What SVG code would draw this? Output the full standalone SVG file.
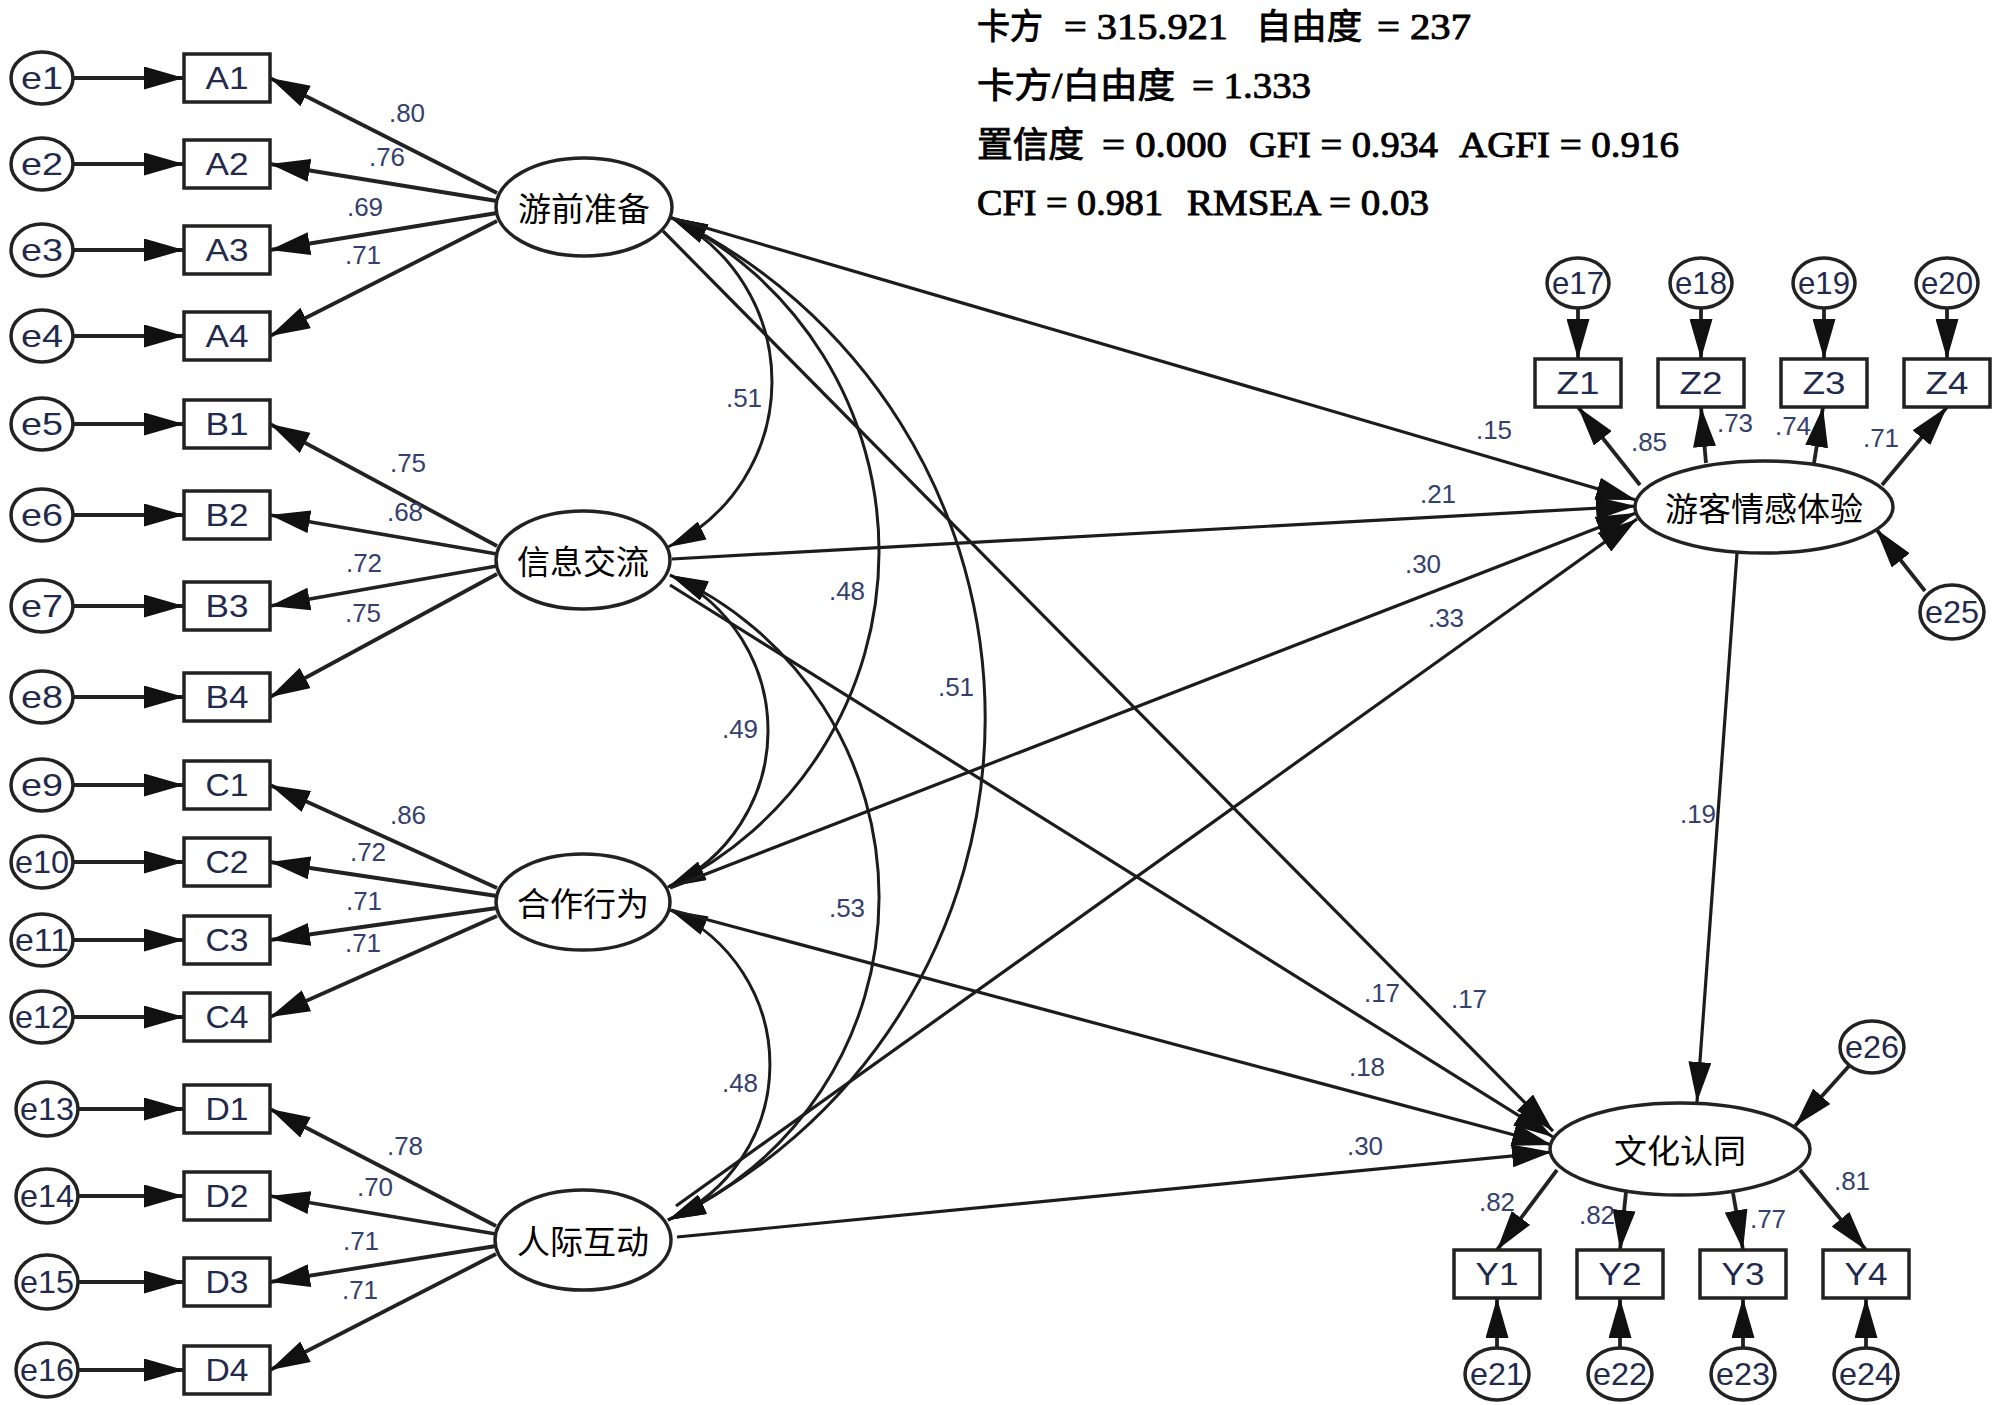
<svg xmlns="http://www.w3.org/2000/svg" width="2000" height="1405" viewBox="0 0 2000 1405">
<defs>
<style>
.bx{fill:#fff;stroke:#222;stroke-width:3.5}
.er{fill:#fff;stroke:#222;stroke-width:3.5}
.lt{fill:#fff;stroke:#222;stroke-width:3.5}
.ln{fill:none;stroke:#222;stroke-width:3.8;marker-end:url(#ah)}
.sp{fill:none;stroke:#1c1c1c;stroke-width:3.2;marker-end:url(#ah)}
.cv{fill:none;stroke:#1c1c1c;stroke-width:3;marker-start:url(#ahc);marker-end:url(#ahc)}
.el{font-family:"Liberation Sans",Arial,sans-serif;font-size:32px;fill:#1f2a4d;text-anchor:middle;dominant-baseline:central}
.bl{font-family:"Liberation Sans",Arial,sans-serif;font-size:32px;fill:#1f2a4d;text-anchor:middle;dominant-baseline:central}
.cf{font-family:"Liberation Sans",Arial,sans-serif;font-size:26px;fill:#34406e;text-anchor:middle;dominant-baseline:central}
.cn{font-family:"Noto Sans CJK SC","Liberation Serif",sans-serif;font-size:33px;fill:#000;text-anchor:middle;dominant-baseline:central}
.st{font-family:"Liberation Serif","Noto Sans CJK SC",serif;font-size:35px;fill:#000;stroke:#000;stroke-width:0.9}
</style>
<marker id="ah" viewBox="0 0 40 23" refX="40" refY="11.5" markerWidth="40" markerHeight="23" markerUnits="userSpaceOnUse" orient="auto-start-reverse"><path d="M0,0 L40,11.5 L0,23 z" fill="#111"/></marker>
<marker id="ahc" viewBox="0 0 38 20" refX="38" refY="10" markerWidth="38" markerHeight="20" markerUnits="userSpaceOnUse" orient="auto-start-reverse"><path d="M0,0 L38,10 L0,20 z" fill="#111"/></marker>
</defs>
<rect width="2000" height="1405" fill="#fff"/>

<g id="stats">
<text class="st" x="977" y="39" textLength="66" lengthAdjust="spacingAndGlyphs">卡方</text>
<text class="st" x="1064" y="39" textLength="164" lengthAdjust="spacingAndGlyphs">= 315.921</text>
<text class="st" x="1256" y="39" textLength="106" lengthAdjust="spacingAndGlyphs">自由度</text>
<text class="st" x="1377" y="39" textLength="94" lengthAdjust="spacingAndGlyphs">= 237</text>
<text class="st" x="977" y="98" textLength="198" lengthAdjust="spacingAndGlyphs">卡方/白由度</text>
<text class="st" x="1192" y="98" textLength="119" lengthAdjust="spacingAndGlyphs">= 1.333</text>
<text class="st" x="977" y="157" textLength="107" lengthAdjust="spacingAndGlyphs">置信度</text>
<text class="st" x="1102" y="157" textLength="125" lengthAdjust="spacingAndGlyphs">= 0.000</text>
<text class="st" x="1249" y="157" textLength="189" lengthAdjust="spacingAndGlyphs">GFI = 0.934</text>
<text class="st" x="1459" y="157" textLength="220" lengthAdjust="spacingAndGlyphs">AGFI = 0.916</text>
<text class="st" x="977" y="215" textLength="186" lengthAdjust="spacingAndGlyphs">CFI = 0.981</text>
<text class="st" x="1187" y="215" textLength="242" lengthAdjust="spacingAndGlyphs">RMSEA = 0.03</text>
</g>

<g id="connectors">
<path class="ln" d="M73,78 H184"/>
<path class="ln" d="M73,164 H184"/>
<path class="ln" d="M73,250 H184"/>
<path class="ln" d="M73,336 H184"/>
<path class="ln" d="M73,424 H184"/>
<path class="ln" d="M73,515 H184"/>
<path class="ln" d="M73,606 H184"/>
<path class="ln" d="M73,697 H184"/>
<path class="ln" d="M73,785 H184"/>
<path class="ln" d="M73,862 H184"/>
<path class="ln" d="M73,940 H184"/>
<path class="ln" d="M73,1017 H184"/>
<path class="ln" d="M78,1109 H184"/>
<path class="ln" d="M78,1196 H184"/>
<path class="ln" d="M78,1282 H184"/>
<path class="ln" d="M78,1370 H184"/>
<path class="ln" d="M497,193 L270,78"/>
<path class="ln" d="M497,201 L270,164"/>
<path class="ln" d="M497,213 L270,250"/>
<path class="ln" d="M497,221 L270,336"/>
<path class="ln" d="M497,546 L270,424"/>
<path class="ln" d="M497,554 L270,515"/>
<path class="ln" d="M497,566 L270,606"/>
<path class="ln" d="M497,574 L270,697"/>
<path class="ln" d="M497,888 L270,785"/>
<path class="ln" d="M497,896 L270,862"/>
<path class="ln" d="M497,908 L270,940"/>
<path class="ln" d="M497,916 L270,1017"/>
<path class="ln" d="M496,1226 L270,1109"/>
<path class="ln" d="M496,1234 L270,1196"/>
<path class="ln" d="M496,1246 L270,1282"/>
<path class="ln" d="M496,1254 L270,1370"/>
<path class="cv" d="M670,217 A183.7,183.7 0 0 1 668,547"/>
<path class="cv" d="M670,217 A372.2,372.2 0 0 1 668,887"/>
<path class="cv" d="M670,217 A555.8,555.8 0 0 1 668,1220"/>
<path class="cv" d="M670,575 A172.4,172.4 0 0 1 668,887"/>
<path class="cv" d="M670,575 A352.6,352.6 0 0 1 668,1220"/>
<path class="cv" d="M670,910 A169.5,169.5 0 0 1 668,1220"/>
<path class="sp" d="M672,218 L1636,500"/>
<path class="sp" d="M672,559 L1636,506"/>
<path class="sp" d="M670,888 L1636,513"/>
<path class="sp" d="M676,1206 L1637,519"/>
<path class="sp" d="M663,231 L1553,1131"/>
<path class="sp" d="M670,585 L1553,1137"/>
<path class="sp" d="M671,910 L1552,1145"/>
<path class="sp" d="M677,1237 L1552,1152"/>
<path class="sp" d="M1737,553 L1697,1102"/>
<path class="ln" d="M1578,308 V359"/>
<path class="ln" d="M1701,308 V359"/>
<path class="ln" d="M1824,308 V359"/>
<path class="ln" d="M1947,308 V359"/>
<path class="ln" d="M1640,485 L1578,407"/>
<path class="ln" d="M1706,463 L1701,407"/>
<path class="ln" d="M1814,463 L1823,407"/>
<path class="ln" d="M1882,485 L1947,407"/>
<path class="ln" d="M1925,591 L1876,529"/>
<path class="ln" d="M1849,1066 L1795,1126"/>
<path class="ln" d="M1557,1170 L1497,1250"/>
<path class="ln" d="M1626,1192 L1620,1250"/>
<path class="ln" d="M1733,1193 L1743,1250"/>
<path class="ln" d="M1800,1170 L1866,1250"/>
<path class="ln" d="M1497,1348 V1298"/>
<path class="ln" d="M1620,1348 V1298"/>
<path class="ln" d="M1743,1348 V1298"/>
<path class="ln" d="M1866,1348 V1298"/>
</g>

<g id="coef-labels">
<text class="cf" x="407" y="113">.80</text>
<text class="cf" x="387" y="157">.76</text>
<text class="cf" x="365" y="207">.69</text>
<text class="cf" x="363" y="255">.71</text>
<text class="cf" x="408" y="463">.75</text>
<text class="cf" x="405" y="512">.68</text>
<text class="cf" x="364" y="563">.72</text>
<text class="cf" x="363" y="613">.75</text>
<text class="cf" x="408" y="815">.86</text>
<text class="cf" x="368" y="852">.72</text>
<text class="cf" x="364" y="901">.71</text>
<text class="cf" x="363" y="943">.71</text>
<text class="cf" x="405" y="1146">.78</text>
<text class="cf" x="375" y="1187">.70</text>
<text class="cf" x="361" y="1241">.71</text>
<text class="cf" x="360" y="1290">.71</text>
<text class="cf" x="744" y="398">.51</text>
<text class="cf" x="847" y="591">.48</text>
<text class="cf" x="956" y="687">.51</text>
<text class="cf" x="740" y="729">.49</text>
<text class="cf" x="847" y="908">.53</text>
<text class="cf" x="740" y="1083">.48</text>
<text class="cf" x="1494" y="430">.15</text>
<text class="cf" x="1438" y="494">.21</text>
<text class="cf" x="1423" y="564">.30</text>
<text class="cf" x="1446" y="618">.33</text>
<text class="cf" x="1382" y="993">.17</text>
<text class="cf" x="1469" y="999">.17</text>
<text class="cf" x="1367" y="1067">.18</text>
<text class="cf" x="1365" y="1146">.30</text>
<text class="cf" x="1698" y="814">.19</text>
<text class="cf" x="1649" y="442">.85</text>
<text class="cf" x="1735" y="423">.73</text>
<text class="cf" x="1793" y="426">.74</text>
<text class="cf" x="1881" y="438">.71</text>
<text class="cf" x="1497" y="1202">.82</text>
<text class="cf" x="1597" y="1215">.82</text>
<text class="cf" x="1768" y="1219">.77</text>
<text class="cf" x="1852" y="1181">.81</text>
</g>

<g id="e1"><ellipse class="er" cx="42" cy="78" rx="31" ry="26"/><text class="el" x="42" y="78" textLength="42" lengthAdjust="spacingAndGlyphs">e1</text></g>
<g id="e2"><ellipse class="er" cx="42" cy="164" rx="31" ry="26"/><text class="el" x="42" y="164" textLength="42" lengthAdjust="spacingAndGlyphs">e2</text></g>
<g id="e3"><ellipse class="er" cx="42" cy="250" rx="31" ry="26"/><text class="el" x="42" y="250" textLength="42" lengthAdjust="spacingAndGlyphs">e3</text></g>
<g id="e4"><ellipse class="er" cx="42" cy="336" rx="31" ry="26"/><text class="el" x="42" y="336" textLength="42" lengthAdjust="spacingAndGlyphs">e4</text></g>
<g id="e5"><ellipse class="er" cx="42" cy="424" rx="31" ry="26"/><text class="el" x="42" y="424" textLength="42" lengthAdjust="spacingAndGlyphs">e5</text></g>
<g id="e6"><ellipse class="er" cx="42" cy="515" rx="31" ry="26"/><text class="el" x="42" y="515" textLength="42" lengthAdjust="spacingAndGlyphs">e6</text></g>
<g id="e7"><ellipse class="er" cx="42" cy="606" rx="31" ry="26"/><text class="el" x="42" y="606" textLength="42" lengthAdjust="spacingAndGlyphs">e7</text></g>
<g id="e8"><ellipse class="er" cx="42" cy="697" rx="31" ry="26"/><text class="el" x="42" y="697" textLength="42" lengthAdjust="spacingAndGlyphs">e8</text></g>
<g id="e9"><ellipse class="er" cx="42" cy="785" rx="31" ry="26"/><text class="el" x="42" y="785" textLength="42" lengthAdjust="spacingAndGlyphs">e9</text></g>
<g id="e10"><ellipse class="er" cx="42" cy="862" rx="31" ry="26"/><text class="el" x="42" y="862" textLength="54" lengthAdjust="spacingAndGlyphs">e10</text></g>
<g id="e11"><ellipse class="er" cx="42" cy="940" rx="31" ry="26"/><text class="el" x="42" y="940" textLength="54" lengthAdjust="spacingAndGlyphs">e11</text></g>
<g id="e12"><ellipse class="er" cx="42" cy="1017" rx="31" ry="26"/><text class="el" x="42" y="1017" textLength="54" lengthAdjust="spacingAndGlyphs">e12</text></g>
<g id="e13"><ellipse class="er" cx="47" cy="1109" rx="31" ry="27"/><text class="el" x="47" y="1109" textLength="54" lengthAdjust="spacingAndGlyphs">e13</text></g>
<g id="e14"><ellipse class="er" cx="47" cy="1196" rx="31" ry="27"/><text class="el" x="47" y="1196" textLength="54" lengthAdjust="spacingAndGlyphs">e14</text></g>
<g id="e15"><ellipse class="er" cx="47" cy="1282" rx="31" ry="27"/><text class="el" x="47" y="1282" textLength="54" lengthAdjust="spacingAndGlyphs">e15</text></g>
<g id="e16"><ellipse class="er" cx="47" cy="1370" rx="31" ry="27"/><text class="el" x="47" y="1370" textLength="54" lengthAdjust="spacingAndGlyphs">e16</text></g>

<g id="A1"><rect class="bx" x="184" y="54" width="86" height="48"/><text class="bl" x="227" y="78" textLength="43" lengthAdjust="spacingAndGlyphs">A1</text></g>
<g id="A2"><rect class="bx" x="184" y="140" width="86" height="48"/><text class="bl" x="227" y="164" textLength="43" lengthAdjust="spacingAndGlyphs">A2</text></g>
<g id="A3"><rect class="bx" x="184" y="226" width="86" height="48"/><text class="bl" x="227" y="250" textLength="43" lengthAdjust="spacingAndGlyphs">A3</text></g>
<g id="A4"><rect class="bx" x="184" y="312" width="86" height="48"/><text class="bl" x="227" y="336" textLength="43" lengthAdjust="spacingAndGlyphs">A4</text></g>
<g id="B1"><rect class="bx" x="184" y="400" width="86" height="48"/><text class="bl" x="227" y="424" textLength="43" lengthAdjust="spacingAndGlyphs">B1</text></g>
<g id="B2"><rect class="bx" x="184" y="491" width="86" height="48"/><text class="bl" x="227" y="515" textLength="43" lengthAdjust="spacingAndGlyphs">B2</text></g>
<g id="B3"><rect class="bx" x="184" y="582" width="86" height="48"/><text class="bl" x="227" y="606" textLength="43" lengthAdjust="spacingAndGlyphs">B3</text></g>
<g id="B4"><rect class="bx" x="184" y="673" width="86" height="48"/><text class="bl" x="227" y="697" textLength="43" lengthAdjust="spacingAndGlyphs">B4</text></g>
<g id="C1"><rect class="bx" x="184" y="761" width="86" height="48"/><text class="bl" x="227" y="785" textLength="43" lengthAdjust="spacingAndGlyphs">C1</text></g>
<g id="C2"><rect class="bx" x="184" y="838" width="86" height="48"/><text class="bl" x="227" y="862" textLength="43" lengthAdjust="spacingAndGlyphs">C2</text></g>
<g id="C3"><rect class="bx" x="184" y="916" width="86" height="48"/><text class="bl" x="227" y="940" textLength="43" lengthAdjust="spacingAndGlyphs">C3</text></g>
<g id="C4"><rect class="bx" x="184" y="993" width="86" height="48"/><text class="bl" x="227" y="1017" textLength="43" lengthAdjust="spacingAndGlyphs">C4</text></g>
<g id="D1"><rect class="bx" x="184" y="1085" width="86" height="48"/><text class="bl" x="227" y="1109" textLength="43" lengthAdjust="spacingAndGlyphs">D1</text></g>
<g id="D2"><rect class="bx" x="184" y="1172" width="86" height="48"/><text class="bl" x="227" y="1196" textLength="43" lengthAdjust="spacingAndGlyphs">D2</text></g>
<g id="D3"><rect class="bx" x="184" y="1258" width="86" height="48"/><text class="bl" x="227" y="1282" textLength="43" lengthAdjust="spacingAndGlyphs">D3</text></g>
<g id="D4"><rect class="bx" x="184" y="1346" width="86" height="48"/><text class="bl" x="227" y="1370" textLength="43" lengthAdjust="spacingAndGlyphs">D4</text></g>

<g id="youqian"><ellipse class="lt" cx="584" cy="207" rx="88" ry="49"/><text class="cn" x="584" y="207">游前准备</text></g>
<g id="xinxi"><ellipse class="lt" cx="583" cy="560" rx="87" ry="49"/><text class="cn" x="583" y="560">信息交流</text></g>
<g id="hezuo"><ellipse class="lt" cx="583" cy="902" rx="87" ry="48"/><text class="cn" x="583" y="902">合作行为</text></g>
<g id="renji"><ellipse class="lt" cx="583" cy="1240" rx="88" ry="50"/><text class="cn" x="583" y="1240">人际互动</text></g>

<g id="qinggan"><ellipse class="lt" cx="1764" cy="507" rx="129" ry="46"/><text class="cn" x="1764" y="507">游客情感体验</text></g>
<g id="wenhua"><ellipse class="lt" cx="1680" cy="1149" rx="130" ry="46"/><text class="cn" x="1680" y="1149">文化认同</text></g>

<g id="e17"><ellipse class="er" cx="1578" cy="283" rx="31" ry="25"/><text class="el" x="1578" y="283" textLength="52" lengthAdjust="spacingAndGlyphs">e17</text></g>
<g id="e18"><ellipse class="er" cx="1701" cy="283" rx="31" ry="25"/><text class="el" x="1701" y="283" textLength="52" lengthAdjust="spacingAndGlyphs">e18</text></g>
<g id="e19"><ellipse class="er" cx="1824" cy="283" rx="31" ry="25"/><text class="el" x="1824" y="283" textLength="52" lengthAdjust="spacingAndGlyphs">e19</text></g>
<g id="e20"><ellipse class="er" cx="1947" cy="283" rx="31" ry="25"/><text class="el" x="1947" y="283" textLength="52" lengthAdjust="spacingAndGlyphs">e20</text></g>
<g id="Z1"><rect class="bx" x="1535" y="359" width="86" height="48"/><text class="bl" x="1578" y="383" textLength="43" lengthAdjust="spacingAndGlyphs">Z1</text></g>
<g id="Z2"><rect class="bx" x="1658" y="359" width="86" height="48"/><text class="bl" x="1701" y="383" textLength="43" lengthAdjust="spacingAndGlyphs">Z2</text></g>
<g id="Z3"><rect class="bx" x="1781" y="359" width="86" height="48"/><text class="bl" x="1824" y="383" textLength="43" lengthAdjust="spacingAndGlyphs">Z3</text></g>
<g id="Z4"><rect class="bx" x="1904" y="359" width="86" height="48"/><text class="bl" x="1947" y="383" textLength="43" lengthAdjust="spacingAndGlyphs">Z4</text></g>
<g id="e25"><ellipse class="er" cx="1952" cy="612" rx="32" ry="27"/><text class="el" x="1952" y="612" textLength="54" lengthAdjust="spacingAndGlyphs">e25</text></g>
<g id="e26"><ellipse class="er" cx="1872" cy="1047" rx="32" ry="26"/><text class="el" x="1872" y="1047" textLength="54" lengthAdjust="spacingAndGlyphs">e26</text></g>
<g id="Y1"><rect class="bx" x="1454" y="1250" width="86" height="48"/><text class="bl" x="1497" y="1274" textLength="43" lengthAdjust="spacingAndGlyphs">Y1</text></g>
<g id="Y2"><rect class="bx" x="1577" y="1250" width="86" height="48"/><text class="bl" x="1620" y="1274" textLength="43" lengthAdjust="spacingAndGlyphs">Y2</text></g>
<g id="Y3"><rect class="bx" x="1700" y="1250" width="86" height="48"/><text class="bl" x="1743" y="1274" textLength="43" lengthAdjust="spacingAndGlyphs">Y3</text></g>
<g id="Y4"><rect class="bx" x="1823" y="1250" width="86" height="48"/><text class="bl" x="1866" y="1274" textLength="43" lengthAdjust="spacingAndGlyphs">Y4</text></g>
<g id="e21"><ellipse class="er" cx="1497" cy="1374" rx="32" ry="26"/><text class="el" x="1497" y="1374" textLength="54" lengthAdjust="spacingAndGlyphs">e21</text></g>
<g id="e22"><ellipse class="er" cx="1620" cy="1374" rx="32" ry="26"/><text class="el" x="1620" y="1374" textLength="54" lengthAdjust="spacingAndGlyphs">e22</text></g>
<g id="e23"><ellipse class="er" cx="1743" cy="1374" rx="32" ry="26"/><text class="el" x="1743" y="1374" textLength="54" lengthAdjust="spacingAndGlyphs">e23</text></g>
<g id="e24"><ellipse class="er" cx="1866" cy="1374" rx="32" ry="26"/><text class="el" x="1866" y="1374" textLength="54" lengthAdjust="spacingAndGlyphs">e24</text></g>
</svg>
